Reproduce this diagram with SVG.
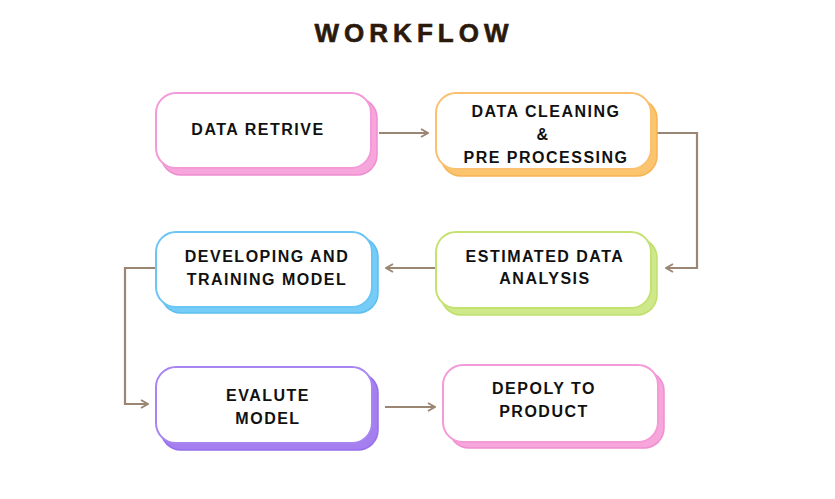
<svg xmlns="http://www.w3.org/2000/svg" width="835" height="499" viewBox="0 0 835 499">
<defs>
<style>
.t{font-family:"Liberation Sans",Arial,sans-serif;font-weight:bold;font-size:16px;letter-spacing:1.5px;fill:#111;text-anchor:middle}
.title{font-family:"Liberation Sans",Arial,sans-serif;font-weight:bold;font-size:26px;letter-spacing:5px;fill:#2b1a0c;text-anchor:middle;stroke:#2b1a0c;stroke-width:0.6}
.front{fill:#fff;stroke-width:2}
.c{fill:none;stroke:#9a8672;stroke-width:2.2}
</style>
<marker id="ah" viewBox="0 0 10 10" refX="9" refY="5" markerWidth="10" markerHeight="10" markerUnits="userSpaceOnUse" orient="auto">
<path d="M2,1 L9,5 L2,9" fill="none" stroke="#9a8672" stroke-width="2"/>
</marker>
</defs>
<rect width="835" height="499" fill="#fff"/>
<text class="title" x="414" y="42">WORKFLOW</text>

<g id="connectors">
<path class="c" d="M379,133 H428" marker-end="url(#ah)"/>
<path class="c" d="M657,133 H697 V268 H666" marker-end="url(#ah)"/>
<path class="c" d="M435,268 H386" marker-end="url(#ah)"/>
<path class="c" d="M155,268 H125 V404 H148" marker-end="url(#ah)"/>
<path class="c" d="M385,407 H435" marker-end="url(#ah)"/>
</g>

<g id="n1">
<rect x="161" y="98" width="216" height="77" rx="20" fill="#f7a6dc" stroke="#f08fd0" stroke-width="1.5"/>
<rect class="front" x="156" y="93" width="215" height="75" rx="20" stroke="#f49ad8"/>
<text class="t" x="258" y="135">DATA RETRIVE</text>
</g>

<g id="n2">
<rect x="441" y="99" width="216" height="77" rx="20" fill="#fbc46e" stroke="#f6b455" stroke-width="1.5"/>
<rect class="front" x="436" y="93" width="215" height="76" rx="20" stroke="#f9c170"/>
<text class="t" x="546" y="117">DATA CLEANING</text>
<text class="t" x="543" y="140">&amp;</text>
<text class="t" x="546" y="163">PRE PROCESSING</text>
</g>

<g id="n3">
<rect x="161" y="237" width="217" height="76" rx="20" fill="#74ccf7" stroke="#5cbff0" stroke-width="1.5"/>
<rect class="front" x="156" y="232" width="216" height="75" rx="20" stroke="#6cc6f4"/>
<text class="t" x="267" y="262">DEVELOPING AND</text>
<text class="t" x="267" y="285">TRAINING MODEL</text>
</g>

<g id="n4">
<rect x="441" y="238" width="216" height="77" rx="20" fill="#cfe889" stroke="#bfdf6c" stroke-width="1.5"/>
<rect class="front" x="436" y="232" width="215" height="76" rx="20" stroke="#c4e272"/>
<text class="t" x="545" y="262">ESTIMATED DATA</text>
<text class="t" x="545" y="284">ANALYSIS</text>
</g>

<g id="n5">
<rect x="161" y="373" width="217" height="77" rx="20" fill="#a57ef0" stroke="#9670ea" stroke-width="1.5"/>
<rect class="front" x="156" y="367" width="216" height="76" rx="20" stroke="#a885f0"/>
<text class="t" x="268" y="401">EVALUTE</text>
<text class="t" x="268" y="424">MODEL</text>
</g>

<g id="n6">
<rect x="449" y="371" width="215" height="77" rx="20" fill="#f7a6dc" stroke="#f08fd0" stroke-width="1.5"/>
<rect class="front" x="443" y="365" width="215" height="77" rx="20" stroke="#f49ad8"/>
<text class="t" x="544" y="394">DEPOLY TO</text>
<text class="t" x="544" y="417">PRODUCT</text>
</g>
</svg>
